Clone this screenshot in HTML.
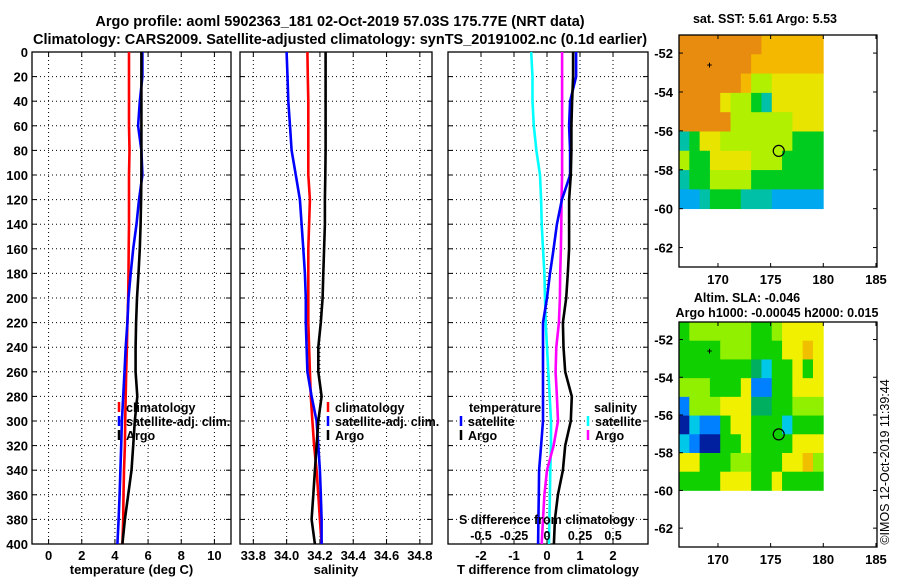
<!DOCTYPE html>
<html><head><meta charset="utf-8"><style>
body{margin:0;background:#fff;}
svg{display:block;font-family:"Liberation Sans",Arial,sans-serif;font-weight:bold;}
</style></head><body>
<svg id="c" width="900" height="580" xmlns="http://www.w3.org/2000/svg"></svg>
<script>
const depths=[0,20,40,60,80,100,120,140,160,180,200,220,240,260,280,300,320,340,360,380,400];
const tempClim=[4.85,4.85,4.85,4.85,4.88,4.85,4.85,4.85,4.83,4.82,4.8,4.75,4.72,4.68,4.65,4.62,4.6,4.55,4.52,4.5,4.45];
const tempSat=[5.66,5.66,5.5,5.4,5.6,5.66,5.45,5.3,5.1,4.95,4.82,4.75,4.65,4.58,4.5,4.42,4.38,4.33,4.28,4.22,4.15];
const tempArgo=[5.6,5.6,5.6,5.6,5.6,5.6,5.58,5.55,5.5,5.42,5.33,5.28,5.25,5.25,5.35,5.2,5.1,5.0,4.8,4.6,4.45];
const salClim=[34.125,34.127,34.13,34.13,34.13,34.13,34.14,34.135,34.13,34.13,34.13,34.13,34.135,34.14,34.145,34.155,34.165,34.18,34.19,34.2,34.21];
const salSat=[34.0,34.005,34.01,34.02,34.03,34.055,34.08,34.09,34.1,34.11,34.115,34.115,34.12,34.125,34.15,34.18,34.19,34.2,34.205,34.21,34.21];
const salArgo=[34.234,34.234,34.234,34.234,34.234,34.232,34.23,34.23,34.225,34.22,34.216,34.205,34.19,34.19,34.21,34.19,34.18,34.17,34.16,34.15,34.17];
const tDiffSat=[0.88,0.88,0.7,0.67,0.7,0.7,0.45,0.3,0.2,0.09,0.0,-0.12,-0.12,-0.12,-0.12,-0.12,-0.18,-0.24,-0.25,-0.26,-0.27];
const tDiffArgo=[0.79,0.79,0.76,0.74,0.74,0.72,0.67,0.67,0.67,0.63,0.58,0.48,0.5,0.55,0.75,0.72,0.55,0.48,0.33,0.24,0.21];
const sDiffSat=[-0.12,-0.11,-0.11,-0.1,-0.08,-0.053,-0.045,-0.04,-0.03,-0.02,-0.015,-0.01,0,0.01,0.02,0.03,0.03,0.025,0.022,0.018,0.015];
const sDiffArgo=[0.114,0.114,0.114,0.114,0.114,0.114,0.11,0.108,0.105,0.1,0.098,0.09,0.07,0.065,0.075,0.083,0.05,0,-0.02,-0.03,-0.04];
const depthTicks=[0,20,40,60,80,100,120,140,160,180,200,220,240,260,280,300,320,340,360,380,400];
const tempTicks=[0,2,4,6,8,10];
const salTicks=[33.8,34,34.2,34.4,34.6,34.8];
const tDiffTicks=[-2,-1,0,1,2];
const sDiffTickVals=[-0.5,-0.25,0,0.25,0.5];
const sDiffTickLabels=["-0.5","-0.25","0","0.25","0.5"];
const lonTicks=[170,175,180,185];
const latTicks=[-52,-54,-56,-58,-60,-62];
const sstGrid=[
[6,6,6,6,6,6,6,6,5,5,5,5,5,5],
[6,6,6,6,6,6,6,5,5,5,5,5,5,5],
[6,6,6,6,6,6,5,3,3,4,4,4,4,4],
[6,6,6,6,4,3,3,2,1,4,4,4,4,4],
[6,6,6,6,6,3,3,3,3,3,3,4,4,4],
[1,2,4,4,3,3,3,3,3,3,3,2,2,2],
[3,2,2,4,4,4,4,3,3,3,2,2,2,2],
[1,2,2,3,3,3,3,2,2,2,2,2,2,2],
[0,0,1,2,2,2,1,1,1,0,0,0,0,0]];
const slaGrid=[
[4,5,5,5,5,5,5,4,4,5,6,6,6,6],
[4,4,4,4,5,5,5,4,4,4,6,6,7,6],
[4,4,4,4,4,4,4,3,2,4,4,6,4,6],
[5,5,5,4,4,4,6,1,1,4,4,6,6,6],
[1,5,5,5,6,6,6,3,3,4,4,5,5,5],
[0,2,1,1,4,6,6,4,4,4,2,4,4,4],
[2,1,0,0,4,4,6,4,4,4,4,6,6,6],
[6,6,4,4,4,5,5,4,4,4,6,6,7,5],
[4,4,4,4,6,6,6,4,4,6,4,4,4,4]];
const sstColors=["#00a8f0","#00c0a8","#00cc20","#b0f000","#e8e400","#f4b800","#e88c10"];
const slaColors=["#0020a0","#0080ff","#00c8e8","#00b060","#10d000","#90f000","#f0f000","#f0c000"];

const svg=document.getElementById('c');
const NS="http://www.w3.org/2000/svg";
function el(tag,attrs,parent){const e=document.createElementNS(NS,tag);for(const k in attrs)e.setAttribute(k,attrs[k]);(parent||svg).appendChild(e);return e;}
function txt(x,y,s,size,anchor,parent){const t=el('text',{x:x,y:y,'font-size':size,'text-anchor':anchor||'middle',fill:'#000'},parent);t.textContent=s;return t;}
const Y0=52,Y1=544;
const yD=d=>Y0+(d/400)*(Y1-Y0);

// titles
let t=txt(340,26,"Argo profile: aoml 5902363_181 02-Oct-2019 57.03S 175.77E (NRT data)",14.5);

t=txt(340,44,"Climatology: CARS2009. Satellite-adjusted climatology: synTS_20191002.nc (0.1d earlier)",14.5);


function panel(name,x0,x1,xmin,xmax,ticks,labels,xlabel,showY){
  const g=el('g',{});
  
  
  const xs=v=>x0+(v-xmin)/(xmax-xmin)*(x1-x0);
  ticks.forEach((v,i)=>{const x=xs(v);
    el('line',{x1:x,y1:Y0,x2:x,y2:Y1,stroke:'#000','stroke-width':1,'stroke-dasharray':'1,3'},g);
    el('line',{x1:x,y1:Y1,x2:x,y2:Y1-5,stroke:'#000'},g);
    el('line',{x1:x,y1:Y0,x2:x,y2:Y0+5,stroke:'#000'},g);
    if(labels)txt(x,Y1+16,labels[i],13,'middle',g);
  });
  depthTicks.forEach(d=>{const y=yD(d);
    el('line',{x1:x0,y1:y,x2:x1,y2:y,stroke:'#000','stroke-width':1,'stroke-dasharray':'1,3'},g);
    el('line',{x1:x0,y1:y,x2:x0+5,y2:y,stroke:'#000'},g);
    el('line',{x1:x1,y1:y,x2:x1-5,y2:y,stroke:'#000'},g);
    if(showY)txt(x0-4,y+5,String(d),13,'end',g);
  });
  el('rect',{x:x0,y:Y0,width:x1-x0,height:Y1-Y0,fill:'none',stroke:'#000','stroke-width':1.3},g);
  const xl=txt((x0+x1)/2,Y1+30,xlabel,13,'middle',g);
  return {g,xs};
}
function series(p,vals,color,name){
  let pts="";
  vals.forEach((v,i)=>{const x=p.xs(v);const y=yD(depths[i]);pts+=x.toFixed(1)+","+y.toFixed(1)+" ";});
  const l=el('polyline',{points:pts,fill:'none',stroke:color,'stroke-width':2.6},p.g);
  
  
}
function legend(g,x,y,color,label,name){
  const gg=el('g',{},g);
  
  
  el('line',{x1:x,y1:y-10,x2:x,y2:y,stroke:color,'stroke-width':2.5},gg);
  if(label)txt(x+7,y,label,12.5,'start',gg);
}

const p1=panel('temperature-panel',32,231,-1,11,tempTicks,tempTicks.map(String),'temperature (deg C)',true);
series(p1,tempClim,'#ff0000','temp-climatology-line');
series(p1,tempSat,'#0000ff','temp-satellite-line');
series(p1,tempArgo,'#000000','temp-argo-line');
legend(p1.g,119,412,'#ff0000','climatology','legend-climatology');
legend(p1.g,119,426,'#0000ff','satellite-adj. clim.','legend-satellite-adj');
legend(p1.g,119,440,'#000000','Argo','legend-argo');

const p2=panel('salinity-panel',240,432,33.72,34.873,salTicks,salTicks.map(v=>v.toFixed(1)),'salinity',false);
series(p2,salClim,'#ff0000','sal-climatology-line');
series(p2,salSat,'#0000ff','sal-satellite-line');
series(p2,salArgo,'#000000','sal-argo-line');
legend(p2.g,328,412,'#ff0000','climatology','legend-climatology');
legend(p2.g,328,426,'#0000ff','satellite-adj. clim.','legend-satellite-adj');
legend(p2.g,328,440,'#000000','Argo','legend-argo');

const p3=panel('difference-panel',448,648,-3,3.06,tDiffTicks,tDiffTicks.map(String),'T difference from climatology',false);
const sx=v=>p3.xs(v*4);
const pS={g:p3.g,xs:v=>p3.xs(v*4)};
series(pS,sDiffSat,'#00ffff','sdiff-satellite-line');
series(pS,sDiffArgo,'#ff00ff','sdiff-argo-line');
series(p3,tDiffSat,'#0000ff','tdiff-satellite-line');
series(p3,tDiffArgo,'#000000','tdiff-argo-line');
txt(469,412,'temperature',12.5,'start',p3.g);
legend(p3.g,461,426,'#0000ff','satellite','legend-t-satellite');
legend(p3.g,461,440,'#000000','Argo','legend-t-argo');
txt(594,412,'salinity',12.5,'start',p3.g);
legend(p3.g,588,426,'#00ffff','satellite','legend-s-satellite');
legend(p3.g,588,440,'#ff00ff','Argo','legend-s-argo');
txt(459,524,'S difference from climatology',12.5,'start',p3.g);
sDiffTickVals.forEach((v,i)=>txt(sx(v),540,sDiffTickLabels[i],12.5,'middle',p3.g));

function map(name,top,bot,imgBot,grid,colors,titles){
  const g=el('g',{});
  
  
  const X0=679,X1=877,lonMin=166.3,lonMax=185.1,latTop=-51.07,latBot=-63;
  const xs=v=>X0+(v-lonMin)/(lonMax-lonMin)*(X1-X0);
  const ys=v=>top+(latTop-v)/(latTop-latBot)*(bot-top);
  const ix1=xs(180),iy1=ys(-60);
  const cols=grid[0].length,rows=grid.length;
  const cw=(ix1-X0)/cols,ch=(iy1-top)/rows;
  grid.forEach((row,r)=>row.forEach((v,c)=>{
    const rc=el('rect',{x:(X0+c*cw).toFixed(2),y:(top+r*ch).toFixed(2),width:(cw+0.4).toFixed(2),height:(ch+0.4).toFixed(2),fill:colors[v]},g);
  }));
  el('rect',{x:X0,y:top,width:X1-X0,height:bot-top,fill:'none',stroke:'#000','stroke-width':1.3},g);
  lonTicks.forEach(v=>{const x=xs(v);
    el('line',{x1:x,y1:bot,x2:x,y2:bot-4,stroke:'#000'},g);
    el('line',{x1:x,y1:top,x2:x,y2:top+4,stroke:'#000'},g);
    txt(x,bot+17,String(v),13,'middle',g);});
  latTicks.forEach(v=>{const y=ys(v);
    el('line',{x1:X0,y1:y,x2:X0+4,y2:y,stroke:'#000'},g);
    el('line',{x1:X1,y1:y,x2:X1-4,y2:y,stroke:'#000'},g);
    txt(X0-6,y+5,String(v),13,'end',g);});
  const circ=el('circle',{cx:xs(175.77),cy:ys(-57.03),r:5.5,fill:'none',stroke:'#000','stroke-width':1.2},g);
  
  
  txt(xs(169.2),ys(-52.6)+3,'+',9,'middle',g);
  titles.forEach(tt=>txt(tt[0],tt[1],tt[2],12.5,'middle',g));
}
map('sst-map',35,267,208,sstGrid,sstColors,[[765,23,'sat. SST: 5.61 Argo: 5.53']]);
map('sla-map',322,547,497,slaGrid,slaColors,[[747,302,'Altim. SLA: -0.046'],[777,317,'Argo h1000: -0.00045 h2000: 0.015']]);
const cp=txt(0,0,'©IMOS 12-Oct-2019 11:39:44',12.5,'middle');
cp.setAttribute('transform','translate(889,462) rotate(-90)');
cp.setAttribute('font-weight','normal');


</script>
</body></html>
